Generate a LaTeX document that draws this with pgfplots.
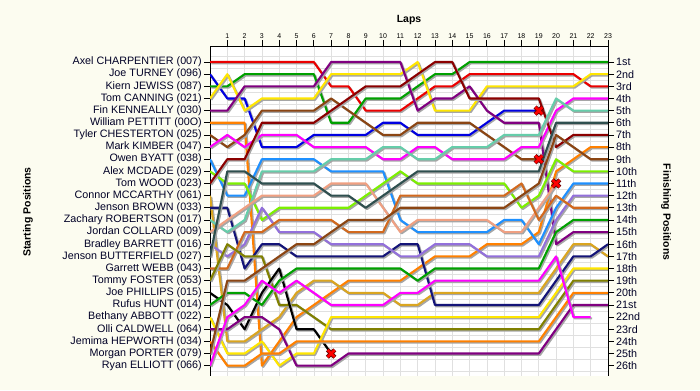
\documentclass[border=0pt]{standalone}
\usepackage{fontspec}
\setmainfont{Liberation Sans}
\usepackage{pgfplots}
\usepackage{pgfplotstable}
\pgfplotsset{compat=1.18}
\definecolor{bgc}{RGB}{252,252,240}
\definecolor{c01}{RGB}{235,0,0}
\definecolor{c02}{RGB}{0,0,225}
\definecolor{c03}{RGB}{0,160,0}
\definecolor{c04}{RGB}{255,230,0}
\definecolor{c05}{RGB}{128,0,128}
\definecolor{c06}{RGB}{255,128,0}
\definecolor{c07}{RGB}{139,69,19}
\definecolor{c08}{RGB}{255,0,255}
\definecolor{c09}{RGB}{30,144,255}
\definecolor{c10}{RGB}{124,240,0}
\definecolor{c11}{RGB}{139,0,0}
\definecolor{c12}{RGB}{218,165,32}
\definecolor{c13}{RGB}{20,20,120}
\definecolor{c14}{RGB}{102,205,170}
\definecolor{c15}{RGB}{240,160,130}
\definecolor{c16}{RGB}{147,112,219}
\definecolor{c17}{RGB}{47,79,79}
\definecolor{c18}{RGB}{210,105,30}
\definecolor{c19}{RGB}{128,128,0}
\definecolor{c20}{RGB}{0,0,0}
\pgfplotstableread{
lap d01 d02 d03 d04 d05 d06 d07 d08 d09 d10 d11 d12 d13 d14 d15 d16 d17 d18 d19 d20 d21 d22 d23 d24 d25 d26
0  1 2 3 4 5 6 7 8 9 10 11 12 13 14 15 16 17 18 19 20 21 22 23 24 25 26
1  1 4 3 2 5 6 8 7 12 11 9 24 13 15 14 17 10 18 16 21 20 25 23 26 19 22
2  1 4 2 5 3 6 7 8 12 11 9 24 18 14 13 16 10 15 17 23 20 25 22 26 19 21
3  1 8 2 4 3 26 5 7 9 14 6 23 16 10 12 13 11 15 17 20 21 24 22 25 18 19
4  1 8 2 4 3 24 5 7 9 13 6 22 16 10 12 15 11 14 21 18 19 26 23 25 17 20
5  1 8 2 4 3 22 5 7 9 13 6 20 17 10 12 15 11 14 21 23 18 25 26 24 16 19
6  1 7 2 4 3 21 5 8 9 13 6 19 17 10 12 15 11 14 22 23 18 25 26 24 16 20
7  3 7 6 2 1 20 4 8 10 13 5 19 17 9 11 16 12 14 23 25 18 22 26 24 15 21
8  3 7 6 2 1 19 5 8 10 13 4 20 17 9 11 16 12 15 23 nan 18 22 25 24 14 21
9  5 7 4 2 1 19 6 8 10 12 3 20 17 9 11 16 13 15 23 nan 18 22 25 24 14 21
10 5 6 4 2 1 19 7 9 10 11 3 20 17 8 13 16 12 15 23 nan 18 22 25 24 14 21
11 5 6 4 2 1 19 7 9 14 10 3 21 16 8 15 17 11 12 23 nan 18 22 25 24 13 20
12 4 7 3 1 5 18 6 8 15 11 2 21 16 9 14 17 10 12 23 nan 19 22 25 24 13 20
13 3 7 2 5 4 17 6 8 15 11 1 20 21 9 14 16 10 12 23 nan 18 22 25 24 13 19
14 3 7 2 5 4 17 6 9 15 11 1 20 21 8 14 16 10 12 23 nan 18 22 25 24 13 19
15 2 7 1 5 3 17 6 9 15 11 4 20 21 8 14 16 10 12 23 nan 18 22 25 24 13 19
16 2 6 1 3 5 16 7 9 15 11 4 20 21 8 14 17 10 12 23 nan 18 22 25 24 13 19
17 2 5 1 3 6 16 8 9 14 11 4 20 21 7 15 17 10 12 23 nan 18 22 25 24 13 19
18 2 5 1 3 6 16 9 8 14 13 4 20 21 7 15 17 10 11 23 nan 18 22 25 24 12 19
19 2 5 1 3 6 15 9 8 16 12 4 20 21 7 13 17 10 14 23 nan 18 22 25 24 11 19
20 2 nan 1 3 16 10 nan 5 13 9 8 18 19 4 11 14 6 12 21 nan 15 20 23 22 7 17
21 2 nan 1 3 15 9 nan 4 11 10 7 16 17 5 nan 12 6 13 19 nan 14 18 21 20 8 22
22 3 nan 1 2 15 8 nan 4 11 10 7 16 17 5 nan 12 6 13 19 nan 14 18 21 20 9 22
23 3 nan 1 2 15 8 nan 4 11 10 7 17 16 5 nan 12 6 13 19 nan 14 18 21 20 9 nan
}\laps
\pgfplotsset{
  drv/.style={draw=#1, line width=2.1bp, line join=round, no markers,
    preaction={draw=black!35, line width=2.1bp, line join=round,
      transform canvas={shift={(1.3bp,-1.3bp)}}}},
}
\begin{document}
\begin{tikzpicture}[x=1bp,y=1bp]
\fill[bgc] (0,0) rectangle (700,390);
\useasboundingbox (0,0) rectangle (700,390);
\begin{axis}[
  at={(210bp,14bp)}, anchor=south west,
  scale only axis, width=398bp, height=330bp,
  xmin=0, xmax=23, ymin=-0.32, ymax=26.85, y dir=reverse,
  axis background/.style={fill=white},
  axis x line*=top, axis y line*=left,
  axis line style={line width=0.9bp, black},
  xtick={1,...,23},
  /pgf/number format/assume math mode=true,
  xticklabel style={font=\fontsize{7}{8}\selectfont, inner sep=1.5bp},
  ytick={1,...,26},
  yticklabels={Axel CHARPENTIER (007),Joe TURNEY (096),Kiern JEWISS (087),Tom CANNING (021),Fin KENNEALLY (030),William PETTITT (00O),Tyler CHESTERTON (025),Mark KIMBER (047),Owen BYATT (038),Alex MCDADE (029),Tom WOOD (023),Connor MCCARTHY (061),Jenson BROWN (033),Zachary ROBERTSON (017),Jordan COLLARD (009),Bradley BARRETT (016),Jenson BUTTERFIELD (027),Garrett WEBB (043),Tommy FOSTER (053),Joe PHILLIPS (015),Rufus HUNT (014),Bethany ABBOTT (022),Olli CALDWELL (064),Jemima HEPWORTH (034),Morgan PORTER (079),Ryan ELLIOTT (066)},
  yticklabel style={font=\fontsize{10.8}{12}\selectfont, text=black!85!blue, inner sep=2bp},
  tick align=outside, major tick length=6bp,
  tick style={line width=0.8bp, black},
  xmajorgrids, yminorgrids,
  minor ytick={0.5,1.5,...,26.5},
  major grid style={line width=0.6bp, black!12},
  minor grid style={line width=0.6bp, black!12},
  minor tick length=0pt,
]
\addplot[drv=c01] table[x=lap,y=d01]{\laps};
\addplot[drv=c02] table[x=lap,y=d02]{\laps};
\addplot[drv=c03] table[x=lap,y=d03]{\laps};
\addplot[drv=c04] table[x=lap,y=d04]{\laps};
\addplot[drv=c05] table[x=lap,y=d05]{\laps};
\addplot[drv=c06] table[x=lap,y=d06]{\laps};
\addplot[drv=c07] table[x=lap,y=d07]{\laps};
\addplot[drv=c08] table[x=lap,y=d08]{\laps};
\addplot[drv=c09] table[x=lap,y=d09]{\laps};
\addplot[drv=c10] table[x=lap,y=d10]{\laps};
\addplot[drv=c11] table[x=lap,y=d11]{\laps};
\addplot[drv=c12] table[x=lap,y=d12]{\laps};
\addplot[drv=c13] table[x=lap,y=d13]{\laps};
\addplot[drv=c14] table[x=lap,y=d14]{\laps};
\addplot[drv=c15] table[x=lap,y=d15]{\laps};
\addplot[drv=c16] table[x=lap,y=d16]{\laps};
\addplot[drv=c17] table[x=lap,y=d17]{\laps};
\addplot[drv=c18] table[x=lap,y=d18]{\laps};
\addplot[drv=c19] table[x=lap,y=d19]{\laps};
\addplot[drv=c20] table[x=lap,y=d20]{\laps};
\addplot[drv=c03] table[x=lap,y=d21]{\laps};
\addplot[drv=c04] table[x=lap,y=d22]{\laps};
\addplot[drv=c05] table[x=lap,y=d23]{\laps};
\addplot[drv=c06] table[x=lap,y=d24]{\laps};
\addplot[drv=c07] table[x=lap,y=d25]{\laps};
\addplot[drv=c08] table[x=lap,y=d26]{\laps};
\addplot[only marks, mark=x, mark size=5.2bp, mark options={line width=4.2bp, draw=red!40!black}] coordinates {(7,25) (19,5) (19,9) (20,11)};
\addplot[only marks, mark=x, mark size=5bp, mark options={line width=2.6bp, draw=red}] coordinates {(7,25) (19,5) (19,9) (20,11)};
\end{axis}
\begin{axis}[
  at={(210bp,14bp)}, anchor=south west,
  scale only axis, width=398bp, height=330bp,
  xmin=0, xmax=23, ymin=-0.32, ymax=26.85, y dir=reverse,
  hide x axis, axis y line*=right,
  axis line style={line width=0.9bp, black},
  ytick={1,...,26},
  yticklabels={1st,2nd,3rd,4th,5th,6th,7th,8th,9th,10th,11th,12th,13th,14th,15th,16th,17th,18th,19th,20th,21st,22nd,23rd,24th,25th,26th},
  yticklabel style={font=\fontsize{10.8}{12}\selectfont, text=black!85!blue, inner sep=2bp},
  tick align=outside, major tick length=6bp,
  tick style={line width=0.8bp, black},
]
\addplot[draw=none] coordinates {(0,1)};
\end{axis}
\node[font=\bfseries\fontsize{10.5}{12}\selectfont] at (409,370) {Laps};
\node[font=\bfseries\fontsize{10.5}{12}\selectfont, rotate=90] at (28,178) {Starting Positions};
\node[font=\bfseries\fontsize{10.5}{12}\selectfont, rotate=-90] at (666,178) {Finishing Positions};
\end{tikzpicture}
\end{document}
